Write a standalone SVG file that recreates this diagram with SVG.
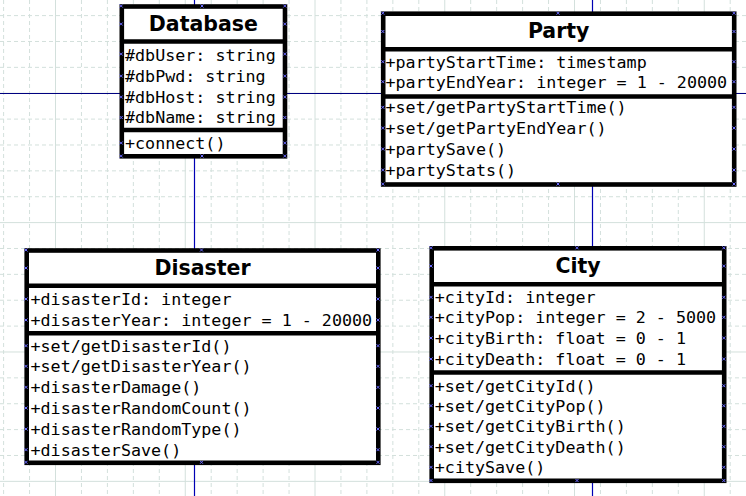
<svg xmlns="http://www.w3.org/2000/svg" xmlns:xlink="http://www.w3.org/1999/xlink" width="746" height="496" viewBox="0 0 746 496">
<style>
.g{stroke:#d3e0dc;stroke-width:1;stroke-dasharray:4 3;fill:none}
.gm{stroke:#d3e0dc;stroke-width:1;fill:none}
.box{fill:#fff;stroke:#000;stroke-width:4.6}
.sep{stroke:#000;stroke-width:4.6}
.t{font-family:"DejaVu Sans","Liberation Sans",sans-serif;font-weight:bold;font-size:20.5px;text-anchor:middle;fill:#000}
.m{font-family:"DejaVu Sans Mono","Liberation Mono",monospace;font-size:16.7px;fill:#000}
.cp{stroke:#6a6aff;stroke-width:1;fill:none}
</style>
<defs>
<path id="cp" class="cp" d="M-1.5,-1.5L1.5,1.5M1.5,-1.5L-1.5,1.5"/>
</defs>
<rect width="746" height="496" fill="#fff"/>
<g id="grid">
<path class="g" d="M3.6,0V496M29.55,0V496M81.45,0V496M107.4,0V496M133.35,0V496M159.3,0V496M211.2,0V496M237.15,0V496M263.1,0V496M289.05,0V496M340.95,0V496M366.9,0V496M392.85,0V496M418.8,0V496M470.7,0V496M496.65,0V496M522.6,0V496M548.55,0V496M600.45,0V496M626.4,0V496M652.35,0V496M678.3,0V496M730.2,0V496"/>
<path class="g" d="M0,15.6H746M0,41.48H746M0,67.35H746M0,119.1H746M0,144.98H746M0,170.85H746M0,196.73H746M0,248.48H746M0,274.35H746M0,300.23H746M0,326.1H746M0,377.85H746M0,403.73H746M0,429.6H746M0,455.48H746"/>
<path class="gm" d="M55.5,0V496M185.25,0V496M315,0V496M444.75,0V496M574.5,0V496M704.25,0V496M0,93.23H746M0,222.6H746M0,351.98H746M0,481.35H746"/>
</g>
<g id="lines">
<line x1="0" y1="93.5" x2="746" y2="93.5" stroke="#000080" stroke-width="1"/>
<line x1="194.5" y1="0" x2="194.5" y2="496" stroke="#0000b4" stroke-width="1.2"/>
<line x1="592.5" y1="0" x2="592.5" y2="496" stroke="#0000b4" stroke-width="1.2"/>
</g>
<g id="database">
<rect class="box" x="121.8" y="6.5" width="163.2" height="149.8"/>
<line class="sep" x1="121.8" y1="41.5" x2="285" y2="41.5"/>
<line class="sep" x1="121.8" y1="130" x2="285" y2="130"/>
<text class="t" x="203.4" y="31">Database</text>
<text class="m"><tspan x="125" y="61">#dbUser: string</tspan><tspan x="125" y="81.7">#dbPwd: string</tspan><tspan x="125" y="102.7">#dbHost: string</tspan><tspan x="125" y="123.3">#dbName: string</tspan><tspan x="125" y="148.7">+connect()</tspan></text>
<g>
<use href="#cp" x="121.2" y="6"/><use href="#cp" x="202" y="6"/><use href="#cp" x="284.8" y="6"/>
<use href="#cp" x="121.2" y="156"/><use href="#cp" x="202" y="156"/><use href="#cp" x="284.8" y="156"/>
<use href="#cp" x="121.2" y="24"/><use href="#cp" x="121.2" y="54"/><use href="#cp" x="121.2" y="76"/><use href="#cp" x="121.2" y="97"/><use href="#cp" x="121.2" y="117.5"/><use href="#cp" x="121.2" y="143"/>
<use href="#cp" x="284.8" y="24"/><use href="#cp" x="284.8" y="54"/><use href="#cp" x="284.8" y="76"/><use href="#cp" x="284.8" y="97"/><use href="#cp" x="284.8" y="117.5"/><use href="#cp" x="284.8" y="143"/>
</g>
</g>
<g id="party">
<rect class="box" x="383.2" y="13.7" width="351" height="170.8"/>
<line class="sep" x1="383.2" y1="49.3" x2="734.2" y2="49.3"/>
<line class="sep" x1="383.2" y1="96.5" x2="734.2" y2="96.5"/>
<text class="t" x="558.7" y="38.3">Party</text>
<text class="m"><tspan x="385.5" y="67.7">+partyStartTime: timestamp</tspan><tspan x="385.5" y="87.7">+partyEndYear: integer = 1 - 20000</tspan><tspan x="385.5" y="113.3">+set/getPartyStartTime()</tspan><tspan x="385.5" y="134">+set/getPartyEndYear()</tspan><tspan x="385.5" y="155">+partySave()</tspan><tspan x="385.5" y="176">+partyStats()</tspan></text>
<g>
<use href="#cp" x="382.8" y="13.2"/><use href="#cp" x="558" y="13.2"/><use href="#cp" x="734" y="13.2"/>
<use href="#cp" x="382.8" y="184"/><use href="#cp" x="558" y="184"/><use href="#cp" x="734" y="184"/>
<use href="#cp" x="382.8" y="31.5"/><use href="#cp" x="382.8" y="61.7"/><use href="#cp" x="382.8" y="81.7"/><use href="#cp" x="382.8" y="107.3"/><use href="#cp" x="382.8" y="128"/><use href="#cp" x="382.8" y="149"/><use href="#cp" x="382.8" y="170"/>
<use href="#cp" x="734" y="31.5"/><use href="#cp" x="734" y="61.7"/><use href="#cp" x="734" y="81.7"/><use href="#cp" x="734" y="107.3"/><use href="#cp" x="734" y="128"/><use href="#cp" x="734" y="149"/><use href="#cp" x="734" y="170"/>
</g>
</g>
<g id="disaster">
<rect class="box" x="26.7" y="250.5" width="351.6" height="212.3"/>
<line class="sep" x1="26.7" y1="285.8" x2="378.3" y2="285.8"/>
<line class="sep" x1="26.7" y1="333.2" x2="378.3" y2="333.2"/>
<text class="t" x="202.5" y="275">Disaster</text>
<text class="m"><tspan x="30.5" y="305">+disasterId: integer</tspan><tspan x="30.5" y="326">+disasterYear: integer = 1 - 20000</tspan><tspan x="30.5" y="351.7">+set/getDisasterId()</tspan><tspan x="30.5" y="372.3">+set/getDisasterYear()</tspan><tspan x="30.5" y="393.3">+disasterDamage()</tspan><tspan x="30.5" y="414">+disasterRandomCount()</tspan><tspan x="30.5" y="435">+disasterRandomType()</tspan><tspan x="30.5" y="455.7">+disasterSave()</tspan></text>
<g>
<use href="#cp" x="26" y="250"/><use href="#cp" x="201.5" y="250"/><use href="#cp" x="378" y="250"/>
<use href="#cp" x="26" y="462.3"/><use href="#cp" x="201.5" y="462.3"/><use href="#cp" x="378" y="462.3"/>
<use href="#cp" x="26" y="268"/><use href="#cp" x="26" y="299"/><use href="#cp" x="26" y="320"/><use href="#cp" x="26" y="345.7"/><use href="#cp" x="26" y="366.3"/><use href="#cp" x="26" y="387.3"/><use href="#cp" x="26" y="408"/><use href="#cp" x="26" y="429"/><use href="#cp" x="26" y="449.7"/>
<use href="#cp" x="378" y="268"/><use href="#cp" x="378" y="299"/><use href="#cp" x="378" y="320"/><use href="#cp" x="378" y="345.7"/><use href="#cp" x="378" y="366.3"/><use href="#cp" x="378" y="387.3"/><use href="#cp" x="378" y="408"/><use href="#cp" x="378" y="429"/><use href="#cp" x="378" y="449.7"/>
</g>
</g>
<g id="city">
<rect class="box" x="431.7" y="248.3" width="292.5" height="232.5"/>
<line class="sep" x1="431.7" y1="284.2" x2="724.2" y2="284.2"/>
<line class="sep" x1="431.7" y1="372.5" x2="724.2" y2="372.5"/>
<text class="t" x="578" y="273.3">City</text>
<text class="m"><tspan x="434.8" y="303.3">+cityId: integer</tspan><tspan x="434.8" y="323.3">+cityPop: integer = 2 - 5000</tspan><tspan x="434.8" y="344">+cityBirth: float = 0 - 1</tspan><tspan x="434.8" y="365">+cityDeath: float = 0 - 1</tspan><tspan x="434.8" y="391.7">+set/getCityId()</tspan><tspan x="434.8" y="411.7">+set/getCityPop()</tspan><tspan x="434.8" y="432.3">+set/getCityBirth()</tspan><tspan x="434.8" y="452.7">+set/getCityDeath()</tspan><tspan x="434.8" y="473.3">+citySave()</tspan></text>
<g>
<use href="#cp" x="431" y="247.8"/><use href="#cp" x="577" y="247.8"/><use href="#cp" x="723.8" y="247.8"/>
<use href="#cp" x="431" y="480.5"/><use href="#cp" x="577" y="480.5"/><use href="#cp" x="723.8" y="480.5"/>
<use href="#cp" x="431" y="266"/><use href="#cp" x="431" y="297.3"/><use href="#cp" x="431" y="317.3"/><use href="#cp" x="431" y="338"/><use href="#cp" x="431" y="359"/><use href="#cp" x="431" y="385.7"/><use href="#cp" x="431" y="405.7"/><use href="#cp" x="431" y="426.3"/><use href="#cp" x="431" y="446.7"/><use href="#cp" x="431" y="467.3"/>
<use href="#cp" x="723.8" y="266"/><use href="#cp" x="723.8" y="297.3"/><use href="#cp" x="723.8" y="317.3"/><use href="#cp" x="723.8" y="338"/><use href="#cp" x="723.8" y="359"/><use href="#cp" x="723.8" y="385.7"/><use href="#cp" x="723.8" y="405.7"/><use href="#cp" x="723.8" y="426.3"/><use href="#cp" x="723.8" y="446.7"/><use href="#cp" x="723.8" y="467.3"/>
</g>
</g>
</svg>
